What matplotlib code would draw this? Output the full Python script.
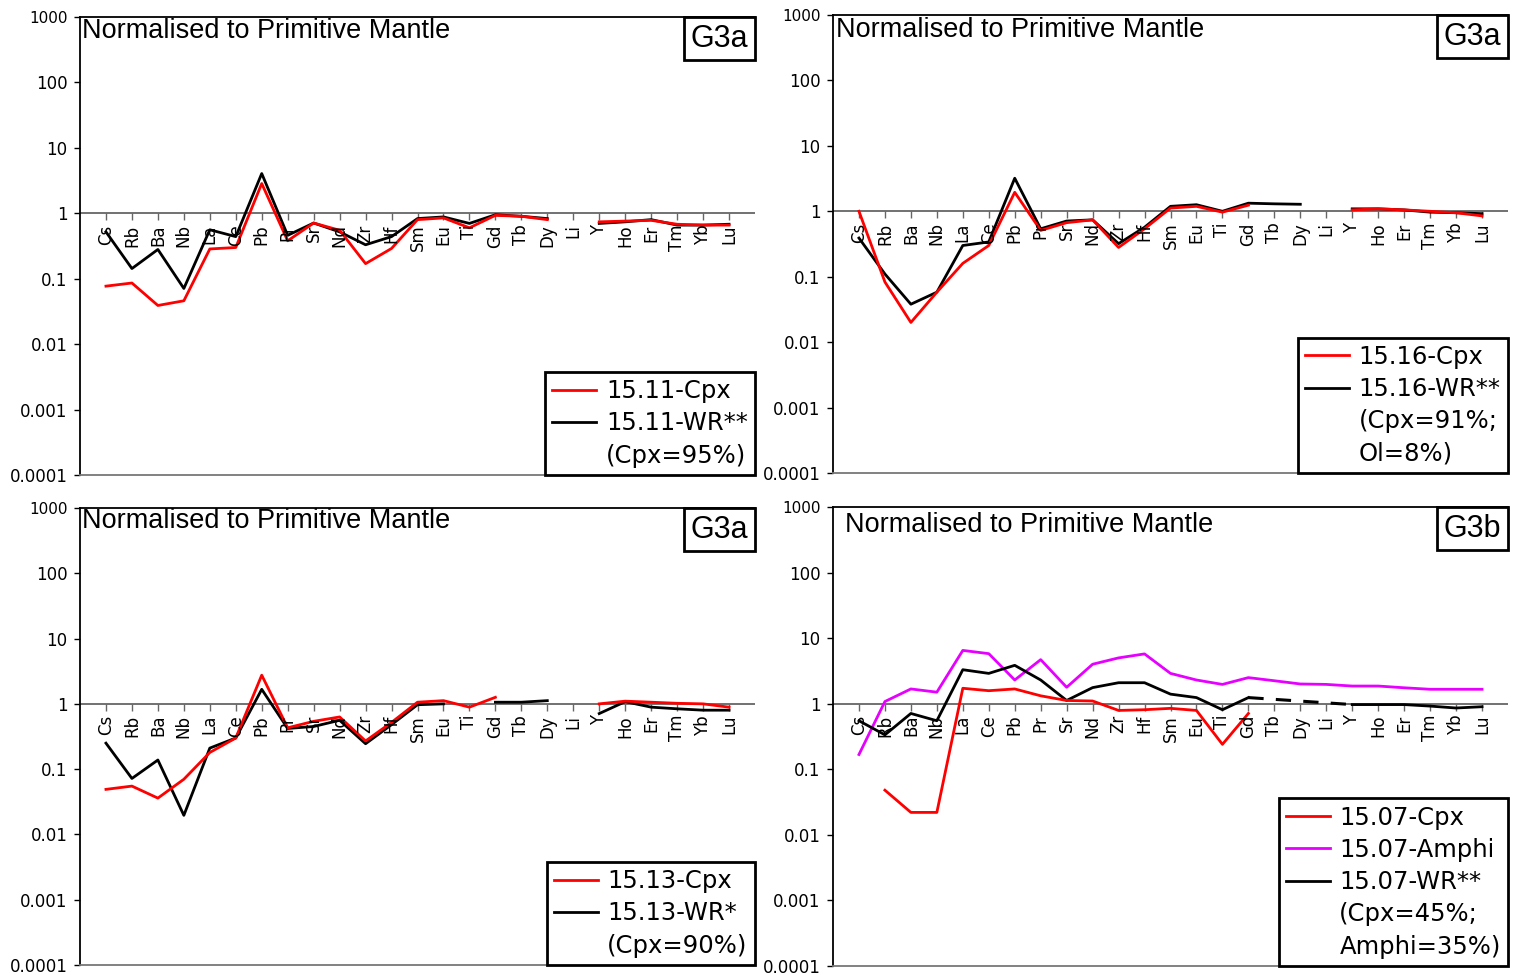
import numpy as np
import matplotlib
matplotlib.use('Agg')
import matplotlib.pyplot as plt
from matplotlib.lines import Line2D
from matplotlib.offsetbox import AnchoredText
from matplotlib.ticker import NullLocator

plt.rcParams['font.family'] = ['DejaVu Sans']

nan = np.nan

elements = ['Cs', 'Rb', 'Ba', 'Nb', 'La', 'Ce', 'Pb', 'Pr', 'Sr', 'Nd', 'Zr', 'Hf', 'Sm',
            'Eu', 'Ti', 'Gd', 'Tb', 'Dy', 'Li', 'Y', 'Ho', 'Er', 'Tm', 'Yb', 'Lu']

# 15.11 (G3a)
cpx_1511 = [0.077, 0.086, 0.039, 0.046, 0.285, 0.30, 2.85, 0.38, 0.71, 0.55, 0.17, 0.29, 0.80,
            0.85, 0.60, 0.93, 0.90, 0.80, nan, 0.74, 0.76, 0.78, 0.68, 0.66, 0.66]
wr_1511 = [0.52, 0.143, 0.28, 0.071, 0.56, 0.44, 4.05, 0.46, 0.71, 0.52, 0.33, 0.44, 0.83,
           0.88, 0.70, 0.95, 0.90, 0.83, nan, 0.70, 0.74, 0.80, 0.66, 0.66, 0.68]

# 15.16 (G3a)
cpx_1516 = [1.0, 0.083, 0.020, 0.058, 0.16, 0.30, 1.95, 0.51, 0.67, 0.74, 0.28, 0.54, 1.12,
            1.19, 0.97, 1.24, nan, nan, nan, 1.05, 1.09, 1.05, 1.0, 0.95, 0.85]
wr_1516 = [0.39, 0.11, 0.038, 0.058, 0.30, 0.34, 3.2, 0.54, 0.71, 0.74, 0.32, 0.57, 1.19,
           1.26, 1.0, 1.33, 1.30, 1.28, nan, 1.09, 1.09, 1.05, 0.97, 0.95, 0.92]

# 15.13 (G3a)
cpx_1513 = [0.049, 0.055, 0.036, 0.07, 0.18, 0.30, 2.75, 0.43, 0.54, 0.63, 0.27, 0.52, 1.06,
            1.12, 0.89, 1.26, nan, nan, nan, 1.0, 1.10, 1.06, 1.02, 1.0, 0.89]
wr_1513 = [0.25, 0.072, 0.138, 0.0196, 0.21, 0.30, 1.67, 0.42, 0.45, 0.56, 0.245, 0.48, 0.97,
           1.0, nan, 1.06, 1.06, 1.12, nan, 0.71, 1.08, 0.89, 0.84, 0.80, 0.80]

# 15.07 (G3b)
cpx_1507 = [nan, 0.048, 0.022, 0.022, 1.72, 1.58, 1.68, 1.32, 1.12, 1.10, 0.79, 0.81, 0.85,
            0.79, 0.24, 0.71, nan, nan, nan, nan, nan, nan, nan, nan, nan]
amphi_1507 = [0.168, 1.08, 1.68, 1.5, 6.5, 5.8, 2.3, 4.7, 1.78, 4.0, 5.0, 5.75, 2.9,
              2.3, 1.97, 2.5, 2.24, 2.0, 1.97, 1.86, 1.86, 1.75, 1.66, 1.66, 1.66]
wr_1507 = [0.55, 0.335, 0.71, 0.55, 3.3, 2.9, 3.85, 2.3, 1.12, 1.76, 2.09, 2.09, 1.4,
           1.24, 0.81, 1.24, nan, nan, nan, 0.97, 0.97, 0.97, 0.92, 0.86, 0.90]

ytick_vals = [1e-4, 1e-3, 1e-2, 1e-1, 1, 10, 100, 1000]
ytick_labels = ['0.0001', '0.001', '0.01', '0.1', '1', '10', '100', '1000']

RED = '#ff0000'
MAG = '#e600ff'
BLK = '#000000'

fig = plt.figure(figsize=(15.21, 9.75), dpi=100)
W, H = 1521.0, 975.0


def make_ax(l, t, r, b):
    return fig.add_axes([l / W, 1 - b / H, (r - l) / W, (b - t) / H])


def setup(ax, tag, title_xy):
    x = np.arange(len(elements))
    ax.set_yscale('log')
    ax.set_ylim(1e-4, 1e3)
    ax.set_xlim(-1, len(elements))
    ax.set_yticks(ytick_vals)
    ax.set_yticklabels(ytick_labels)
    ax.yaxis.set_minor_locator(NullLocator())
    ax.tick_params(axis='y', direction='out', length=4, width=1, labelsize=12, pad=5)
    ax.get_yticklabels()[-1].set_fontsize(11)
    ax.set_xticks([])
    ax.spines['right'].set_visible(False)
    ax.spines['top'].set_linewidth(1.3)
    ax.spines['left'].set_linewidth(1.3)
    ax.spines['bottom'].set_color('#777777')
    ax.spines['bottom'].set_linewidth(1.3)
    # category axis crossing at 1
    ax.axhline(1, color='#666666', lw=1.3, zorder=1)
    ax.plot(x, np.ones(len(x)), ls='none', marker=3, ms=5, mew=1, color='#666666', zorder=1)
    for i, el in enumerate(elements):
        ax.annotate(el, (i, 1), xytext=(0, -8), textcoords='offset points',
                    rotation=90, ha='center', va='top', fontsize=12)
    ax.text(title_xy[0], title_xy[1], 'Normalised to Primitive Mantle', transform=ax.transAxes,
            ha='left', va='center', fontsize=19.5, family=['Liberation Sans', 'DejaVu Sans'])
    at = AnchoredText(tag, loc='upper right', borderpad=0, pad=0.22, frameon=True,
                      prop=dict(size=22, family=['Liberation Sans', 'DejaVu Sans']))
    at.patch.set_linewidth(2)
    at.patch.set_boxstyle('square,pad=0')
    ax.add_artist(at)


def add_legend(ax, handles, labels):
    leg = ax.legend(handles, labels, loc='lower right', borderaxespad=0, fancybox=False,
                    edgecolor='black', framealpha=1, handlelength=1.8, handletextpad=0.4,
                    labelspacing=0.34, borderpad=0.3, fontsize=17.5)
    leg.get_frame().set_linewidth(2)


x = np.arange(len(elements))
blank = Line2D([], [], color='none')

# top left
ax1 = make_ax(80, 17, 755, 475)
setup(ax1, 'G3a', (0.003, 0.969))
ax1.plot(x, wr_1511, color=BLK, lw=2)
ax1.plot(x, cpx_1511, color=RED, lw=2)
add_legend(ax1, [Line2D([], [], color=RED, lw=2), Line2D([], [], color=BLK, lw=2), blank],
           ['15.11-Cpx', '15.11-WR**', '(Cpx=95%)'])

# top right
ax2 = make_ax(833, 15, 1508, 473)
setup(ax2, 'G3a', (0.004, 0.967))
ax2.plot(x, wr_1516, color=BLK, lw=2)
ax2.plot(x, cpx_1516, color=RED, lw=2)
add_legend(ax2, [Line2D([], [], color=RED, lw=2), Line2D([], [], color=BLK, lw=2), blank, blank],
           ['15.16-Cpx', '15.16-WR**', '(Cpx=91%;', 'Ol=8%)'])

# bottom left
ax3 = make_ax(80, 508, 755, 965)
setup(ax3, 'G3a', (0.003, 0.972))
ax3.plot(x, wr_1513, color=BLK, lw=2)
ax3.plot(x, cpx_1513, color=RED, lw=2)
add_legend(ax3, [Line2D([], [], color=RED, lw=2), Line2D([], [], color=BLK, lw=2), blank],
           ['15.13-Cpx', '15.13-WR*', '(Cpx=90%)'])

# bottom right
ax4 = make_ax(833, 507, 1508, 966)
setup(ax4, 'G3b', (0.018, 0.961))
ax4.plot(x, amphi_1507, color=MAG, lw=2)
ax4.plot(x, wr_1507, color=BLK, lw=2)
gd, yy = elements.index('Gd'), elements.index('Y')
ax4.plot([gd, yy], [wr_1507[gd], wr_1507[yy]], color=BLK, lw=2.2, ls=(0, (5, 4)))
ax4.plot(x, cpx_1507, color=RED, lw=2)
add_legend(ax4, [Line2D([], [], color=RED, lw=2), Line2D([], [], color=MAG, lw=2),
                 Line2D([], [], color=BLK, lw=2), blank, blank],
           ['15.07-Cpx', '15.07-Amphi', '15.07-WR**', '(Cpx=45%;', 'Amphi=35%)'])

fig.savefig('out.png', dpi=100)
